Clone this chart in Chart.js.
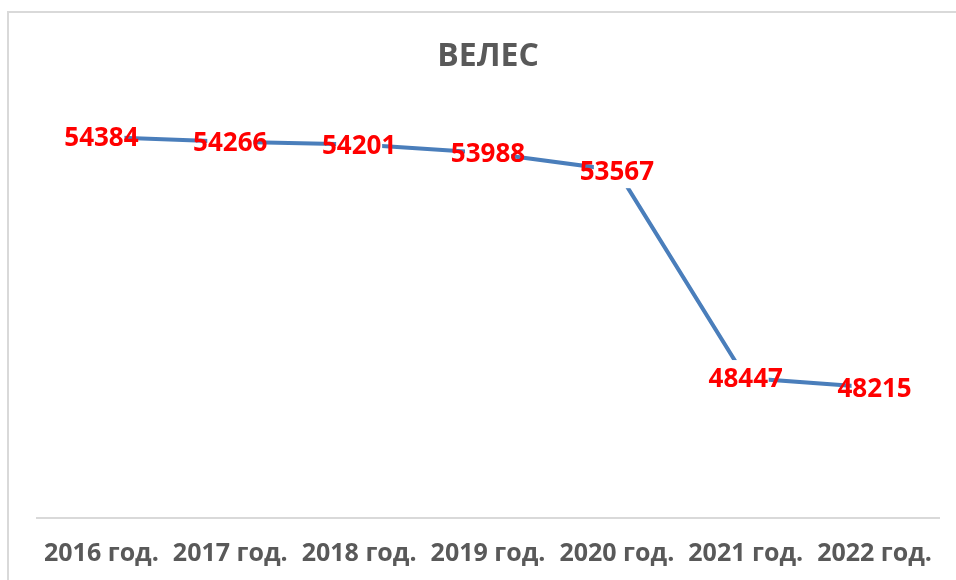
<!DOCTYPE html>
<html>
<head>
<meta charset="utf-8">
<script src="https://cdn.jsdelivr.net/npm/chart.js@4/dist/chart.umd.min.js"></script>
<style>
  html, body { margin: 0; padding: 0; background: #ffffff; }
  #wrap { width: 956px; height: 580px; position: relative; }
</style>
</head>
<body>
<div id="wrap"><canvas id="c" width="956" height="580"></canvas></div>
<script>
const chartTitle = 'ВЕЛЕС';
const categories = ['2016 год.', '2017 год.', '2018 год.', '2019 год.', '2020 год.', '2021 год.', '2022 год.'];
const population = [54384, 54266, 54201, 53988, 53567, 48447, 48215];
const yMin = 45000;
const yMax = 56000;

const frame = {
  id: 'frame',
  beforeDraw(chart) {
    const ctx = chart.ctx;
    ctx.save();
    ctx.fillStyle = '#ffffff';
    ctx.fillRect(0, 0, chart.width, chart.height);
    ctx.strokeStyle = '#d9d9d9';
    ctx.lineWidth = 2;
    ctx.strokeRect(8, 12, chart.width + 20, chart.height + 20);
    ctx.restore();
  }
};

const valueLabels = {
  id: 'valueLabels',
  afterDatasetsDraw(chart) {
    const ctx = chart.ctx;
    const meta = chart.getDatasetMeta(0);
    const data = chart.data.datasets[0].data;
    ctx.save();
    meta.data.forEach((pt) => {
      ctx.fillStyle = '#ffffff';
      ctx.fillRect(pt.x - 23, pt.y - 18, 46, 36);
    });
    ctx.fillStyle = '#ff0000';
    ctx.font = 'bold 26px "Open Sans"';
    ctx.textAlign = 'center';
    ctx.textBaseline = 'middle';
    meta.data.forEach((pt, i) => {
      ctx.fillText(String(data[i]), pt.x, pt.y + 2);
    });
    ctx.restore();
  }
};

new Chart(document.getElementById('c'), {
  type: 'line',
  data: {
    labels: categories,
    datasets: [{
      data: population,
      borderColor: '#4a7ebb',
      backgroundColor: '#4a7ebb',
      borderWidth: 4,
      pointRadius: 0,
      tension: 0,
      fill: false
    }]
  },
  options: {
    responsive: false,
    animation: false,
    devicePixelRatio: 1,
    layout: { padding: { left: 37, right: 17, top: 0, bottom: -10 } },
    plugins: {
      legend: { display: false },
      tooltip: { enabled: false },
      title: {
        display: true,
        text: chartTitle,
        color: '#595959',
        font: { family: 'Open Sans', size: 32, weight: 'bold', lineHeight: 1.2 },
        padding: { top: 38, bottom: -5 }
      }
    },
    scales: {
      x: {
        offset: true,
        grid: { display: false, drawTicks: false },
        border: { display: true, color: '#d9d9d9', width: 2 },
        ticks: {
          color: '#595959',
          font: { family: 'Open Sans', size: 25, weight: 'bold', lineHeight: 1.2 },
          padding: 21,
          maxRotation: 0,
          autoSkip: false
        }
      },
      y: {
        display: false,
        min: yMin,
        max: yMax
      }
    }
  },
  plugins: [frame, valueLabels]
});
</script>
</body>
</html>
